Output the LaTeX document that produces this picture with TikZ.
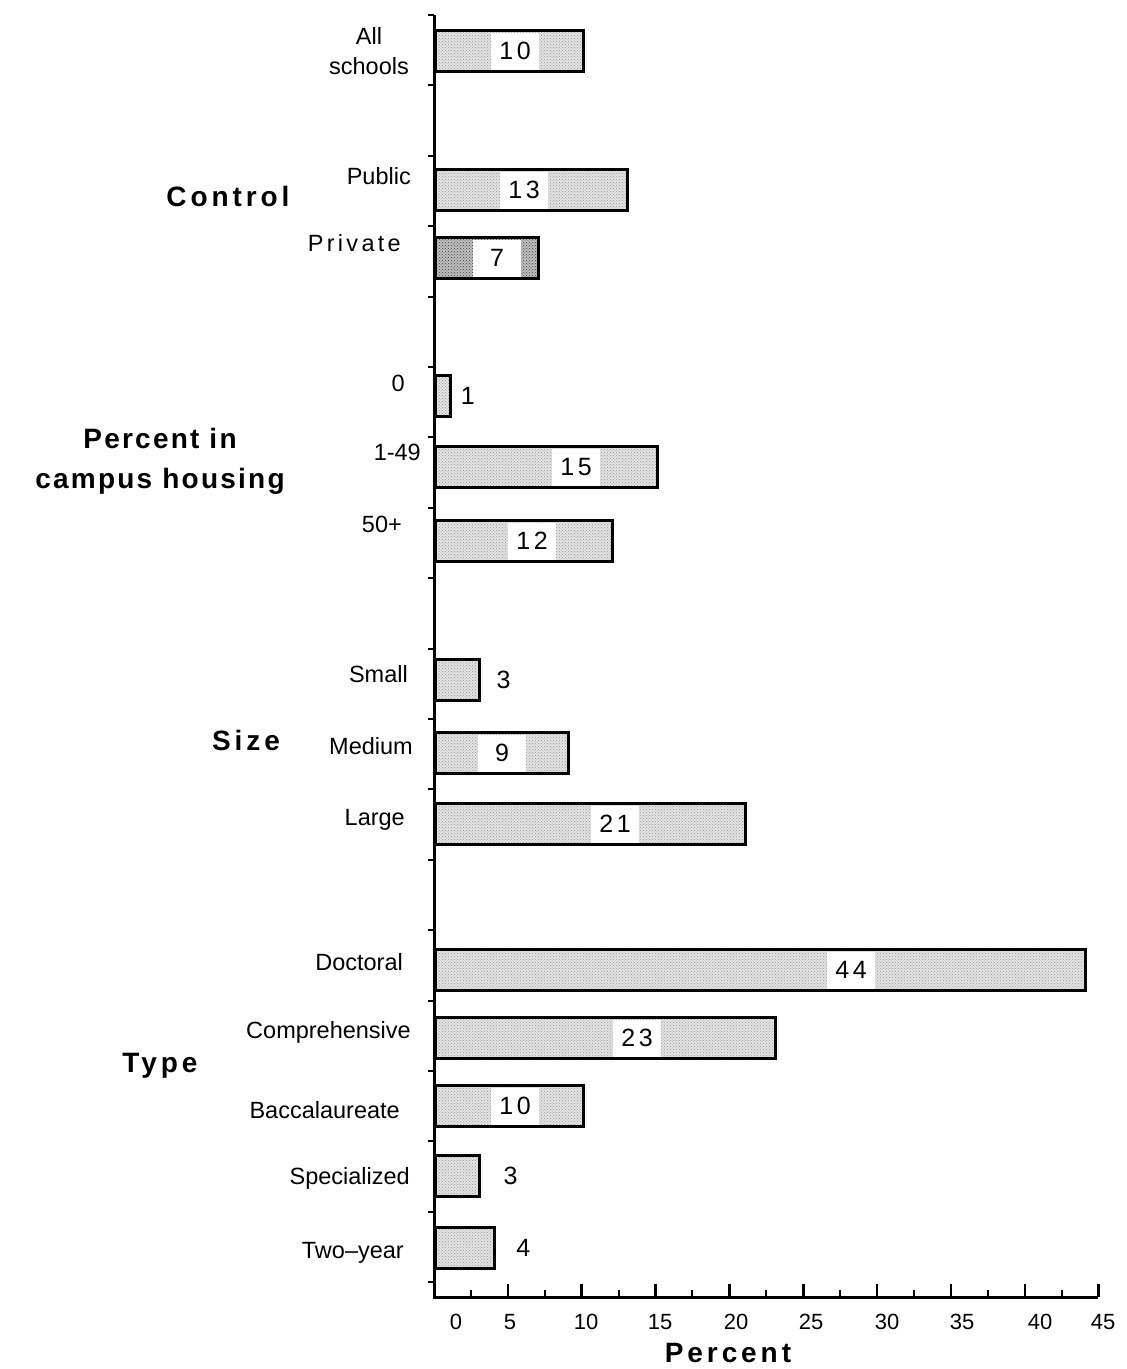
\documentclass[tikz,border=0pt]{standalone}
\usepackage{fontspec}
\setmainfont{Liberation Sans}
\newfontfamily\widefont[LetterSpace=14]{Liberation Sans}
\newfontfamily\housefont[LetterSpace=8]{Liberation Sans}
\usetikzlibrary{patterns,positioning}

\begin{document}
\begin{tikzpicture}
  [x=1pt,y=-1pt,every node/.style={inner sep=0pt},
   bar/.style={draw,line width=3pt,anchor=west,minimum height=41pt,
     minimum width=#1*14.77pt,preaction={fill=gray!22},
     preaction={pattern=crosshatch dots,pattern color=gray!80}},
   darkbar/.style={draw,line width=3pt,anchor=west,minimum height=41pt,
     minimum width=#1*14.77pt,preaction={fill=gray!50},
     preaction={pattern=crosshatch dots,pattern color=black!75}},
   numbox/.style={fill=white,minimum width=48pt,minimum height=37pt,
     font=\widefont\fontsize{25}{25}\selectfont},
   numlab/.style={font=\widefont\fontsize{25}{25}\selectfont},
   cat/.style={anchor=east,align=center,font=\fontsize{23.5}{30}\selectfont},
   group/.style={align=center,font=\widefont\bfseries\fontsize{28}{40}\selectfont},
   ticklab/.style={font=\fontsize{22}{22}\selectfont}]
  \useasboundingbox (0,0) rectangle (1127,1369);

  % axes
  \coordinate (top) at (434,15);
  \coordinate (orig) at (434,1297);
  \coordinate (xend) at (1098,1297);
  \draw[line width=3pt] (top) -- (orig) -- (xend);
  \foreach \k in {0,...,18}
    \draw[line width=2pt] (434,{15+70.4*\k}) -- ++(-6,0);
  \foreach \v in {5,10,...,45}
    \draw[line width=2.5pt] ({434+14.77*\v},1297) -- ++(0,-13);
  \foreach \v in {2.5,7.5,...,42.5}
    \draw[line width=2pt] ({434+14.77*\v},1297) -- ++(0,-7);
  \foreach \v/\x in {0/456,5/510,10/586,15/660,20/736,25/811,30/887,35/962,40/1040,45/1103}
    \node[ticklab] (t\v) at (\x,1322) {\v};
  \node[group] (xtitle) at (728,1353) {Percent};

  % bars with the value in a box
  \node[bar=10] (all) at (434,51) {};
  \node[numbox] (allv) at (515,51) {10};
  \node[bar=13] (pub) at (434,190) {};
  \node[numbox] (pubv) at (524,190) {13};
  \node[darkbar=7] (priv) at (434,258) {};
  \node[numbox] (privv) at (497,258) {7};
  \node[bar=15] (h1) at (434,467) {};
  \node[numbox] (h1v) at (576,467) {15};
  \node[bar=12] (h50) at (434,541) {};
  \node[numbox] (h50v) at (532,541) {12};
  \node[bar=9] (med) at (434,753) {};
  \node[numbox] (medv) at (502,753) {9};
  \node[bar=21] (large) at (434,824) {};
  \node[numbox] (largev) at (615,824) {21};
  \node[bar=44] (doc) at (434,970) {};
  \node[numbox] (docv) at (851,970) {44};
  \node[bar=23] (comp) at (434,1038) {};
  \node[numbox] (compv) at (637,1038) {23};
  \node[bar=10] (bacc) at (434,1106) {};
  \node[numbox] (baccv) at (515,1106) {10};

  % short bars, value beside
  \node[bar=1] (h0) at (434,396) {};
  \node[numlab,right=9pt of h0] (h0v) {1};
  \node[bar=3] (small) at (434,680) {};
  \node[numlab,right=15pt of small] (smallv) {3};
  \node[bar=3] (spec) at (434,1176) {};
  \node[numlab,right=22pt of spec] (specv) {3};
  \node[bar=4] (two) at (434,1248) {};
  \node[numlab,right=20pt of two] (twov) {4};

  % category labels
  \node[cat,anchor=center] (l-all) at (369,51) {All\\schools};
  \node[cat] (l-pub) at (411,176) {Public};
  \node[cat] (l-priv) at (401,243) {\widefont Private};
  \node[cat] (l-h0) at (405,383) {0};
  \node[cat] (l-h1) at (421,452) {1-49};
  \node[cat] (l-h50) at (402,524) {50+};
  \node[cat] (l-small) at (408,674) {Small};
  \node[cat] (l-med) at (413,746) {Medium};
  \node[cat] (l-large) at (405,820) {Large};
  \node[cat] (l-doc) at (403,962) {Doctoral};
  \node[cat] (l-comp) at (411,1032) {Comprehensive};
  \node[cat] (l-bacc) at (400,1110) {Baccalaureate};
  \node[cat] (l-spec) at (410,1178) {Specialized};
  \node[cat] (l-two) at (404,1253) {Two–year};

  % group labels
  \node[group] (g-control) at (228,196) {Control};
  \node[group,font=\housefont\bfseries\fontsize{28}{40}\selectfont] (g-housing) at (160,461) {Percent in\\campus housing};
  \node[group] (g-size) at (246,740) {Size};
  \node[group] (g-type) at (160,1066) {Type};
\end{tikzpicture}
\end{document}
